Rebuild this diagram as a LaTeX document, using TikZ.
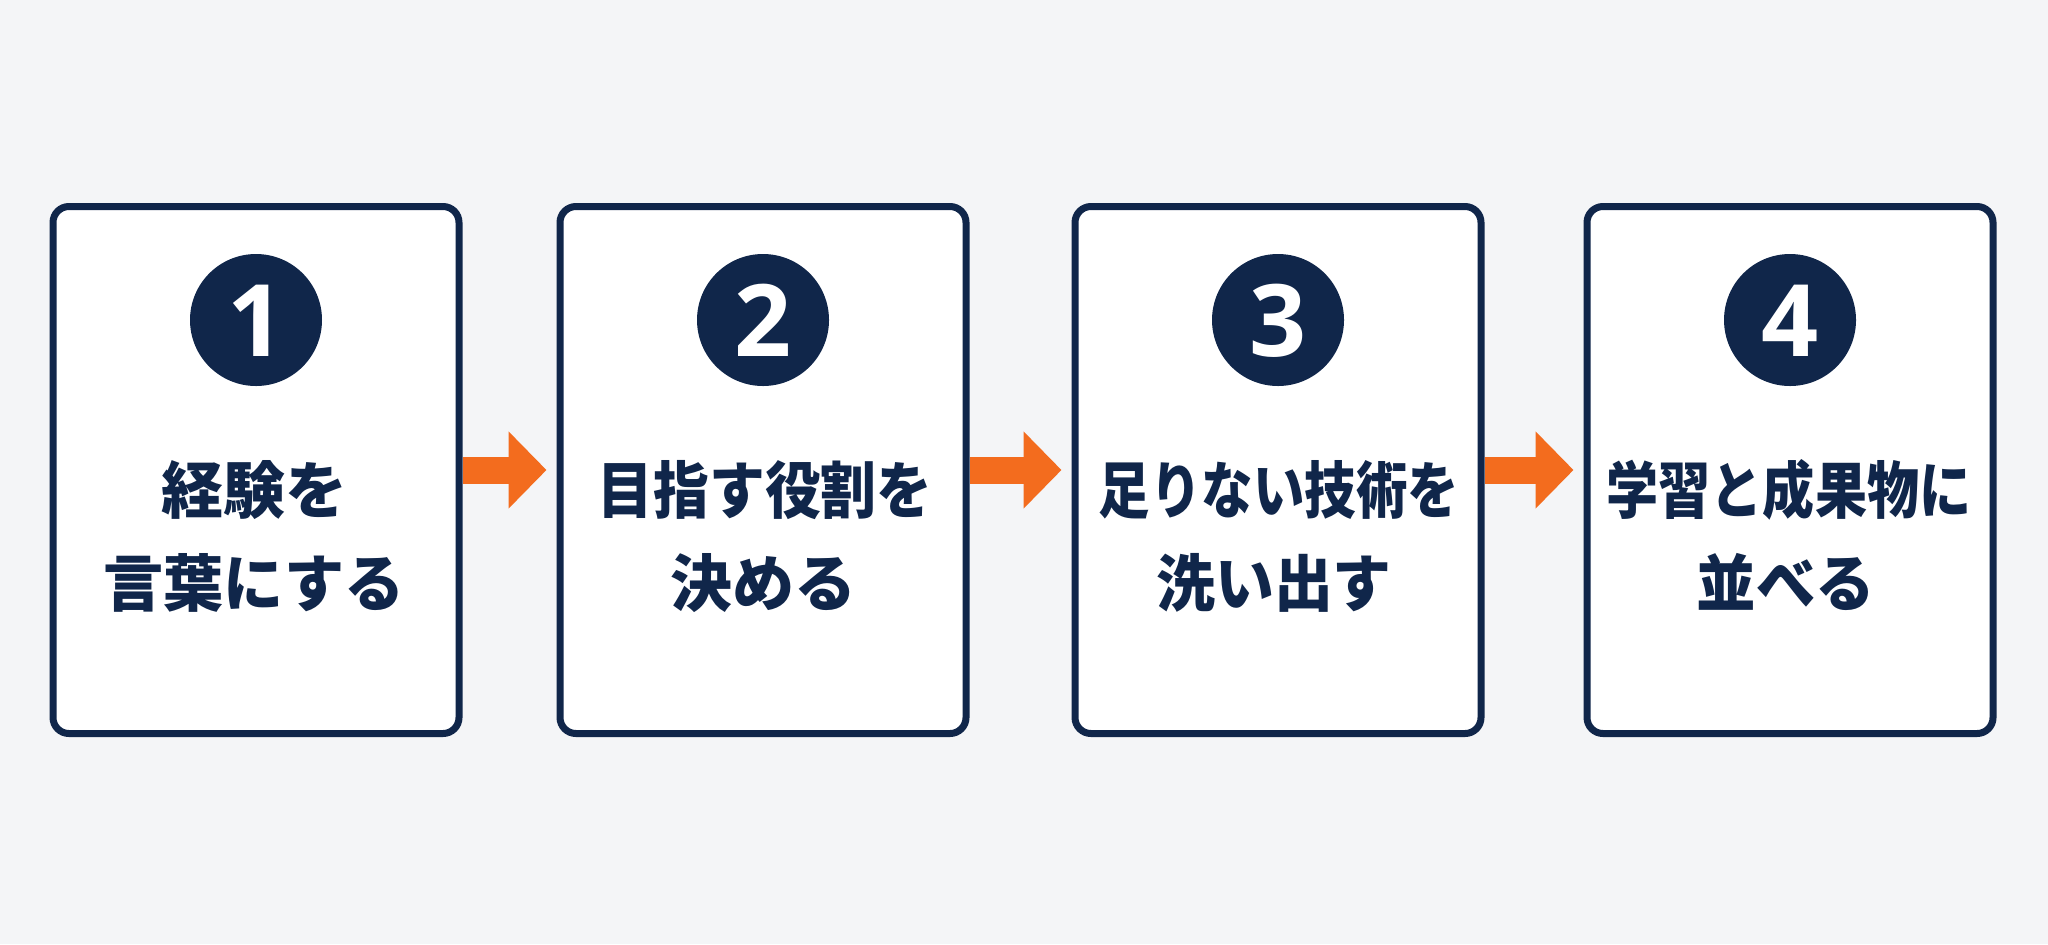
\documentclass[tikz,border=0pt]{standalone}
\usepackage{fontspec}
\newfontfamily\cjk{Noto Sans CJK JP}[BoldFont={* Black}]
\newfontfamily\numf{Open Sans}
\usetikzlibrary{arrows.meta}
\definecolor{navy}{HTML}{10264A}
\definecolor{orng}{HTML}{F36C1E}
\definecolor{bgc}{HTML}{F4F5F7}
\pgfdeclarelayer{backlayer}
\pgfdeclarelayer{arrowlayer}
\pgfsetlayers{backlayer,arrowlayer,main}
\begin{document}
\begin{tikzpicture}[x=0.5pt,y=-0.5pt,
 card/.style={draw=navy, line width=3.5pt, fill=white, rounded corners=8pt, minimum width=203pt, minimum height=263.5pt, inner sep=0pt},
 badge/.style={circle, fill=navy, minimum size=66pt, inner sep=0pt},
 num/.style={text=white, font=\numf\bfseries\fontsize{50pt}{50pt}\selectfont, anchor=base, inner sep=0pt},
 txt/.style={text=navy, font=\cjk\bfseries\fontsize{31pt}{31pt}\selectfont, anchor=base, inner sep=0pt},
 flow/.style={draw=orng, line width=13.5pt, -{Triangle[length=19pt,width=37.5pt]}, shorten >=5pt}
]
\begin{pgfonlayer}{backlayer}
\fill[bgc] (0,0) rectangle (2048,944);
\end{pgfonlayer}
\useasboundingbox (0,0) rectangle (2048,944);

\node[card] (b1) at (256,470) {};
\node[card] (b2) at (763,470) {};
\node[card] (b3) at (1278,470) {};
\node[card] (b4) at (1790,470) {};

\node[badge] (c1) at (256,320) {};
\node[badge] (c2) at (763,320) {};
\node[badge] (c3) at (1278,320) {};
\node[badge] (c4) at (1790,320) {};

\node[num] (n1) at (256,356) {1};
\node[num] (n2) at (763,356) {2};
\node[num] (n3) at (1278,356) {3};
\node[num] (n4) at (1790,356) {4};

\node[txt] (t1a) at (254,513) {経験を};
\node[txt] (t1b) at (254,606) {\scalebox{0.97}[1]{言葉にする}};
\node[txt] (t2a) at (765,513) {\scalebox{0.90}[1]{目指す役割を}};
\node[txt] (t2b) at (763,606) {決める};
\node[txt] (t3a) at (1279,513) {\scalebox{0.83}[1]{足りない技術を}};
\node[txt] (t3b) at (1274,606) {\scalebox{0.95}[1]{洗い出す}};
\node[txt] (t4a) at (1789,513) {\scalebox{0.84}[1]{学習と成果物に}};
\node[txt] (t4b) at (1786,606) {\scalebox{0.96}[1]{並べる}};

\begin{pgfonlayer}{arrowlayer}
\draw[flow] (b1.east) -- (b2.west);
\draw[flow] (b2.east) -- (b3.west);
\draw[flow] (b3.east) -- (b4.west);
\end{pgfonlayer}
\end{tikzpicture}
\end{document}
